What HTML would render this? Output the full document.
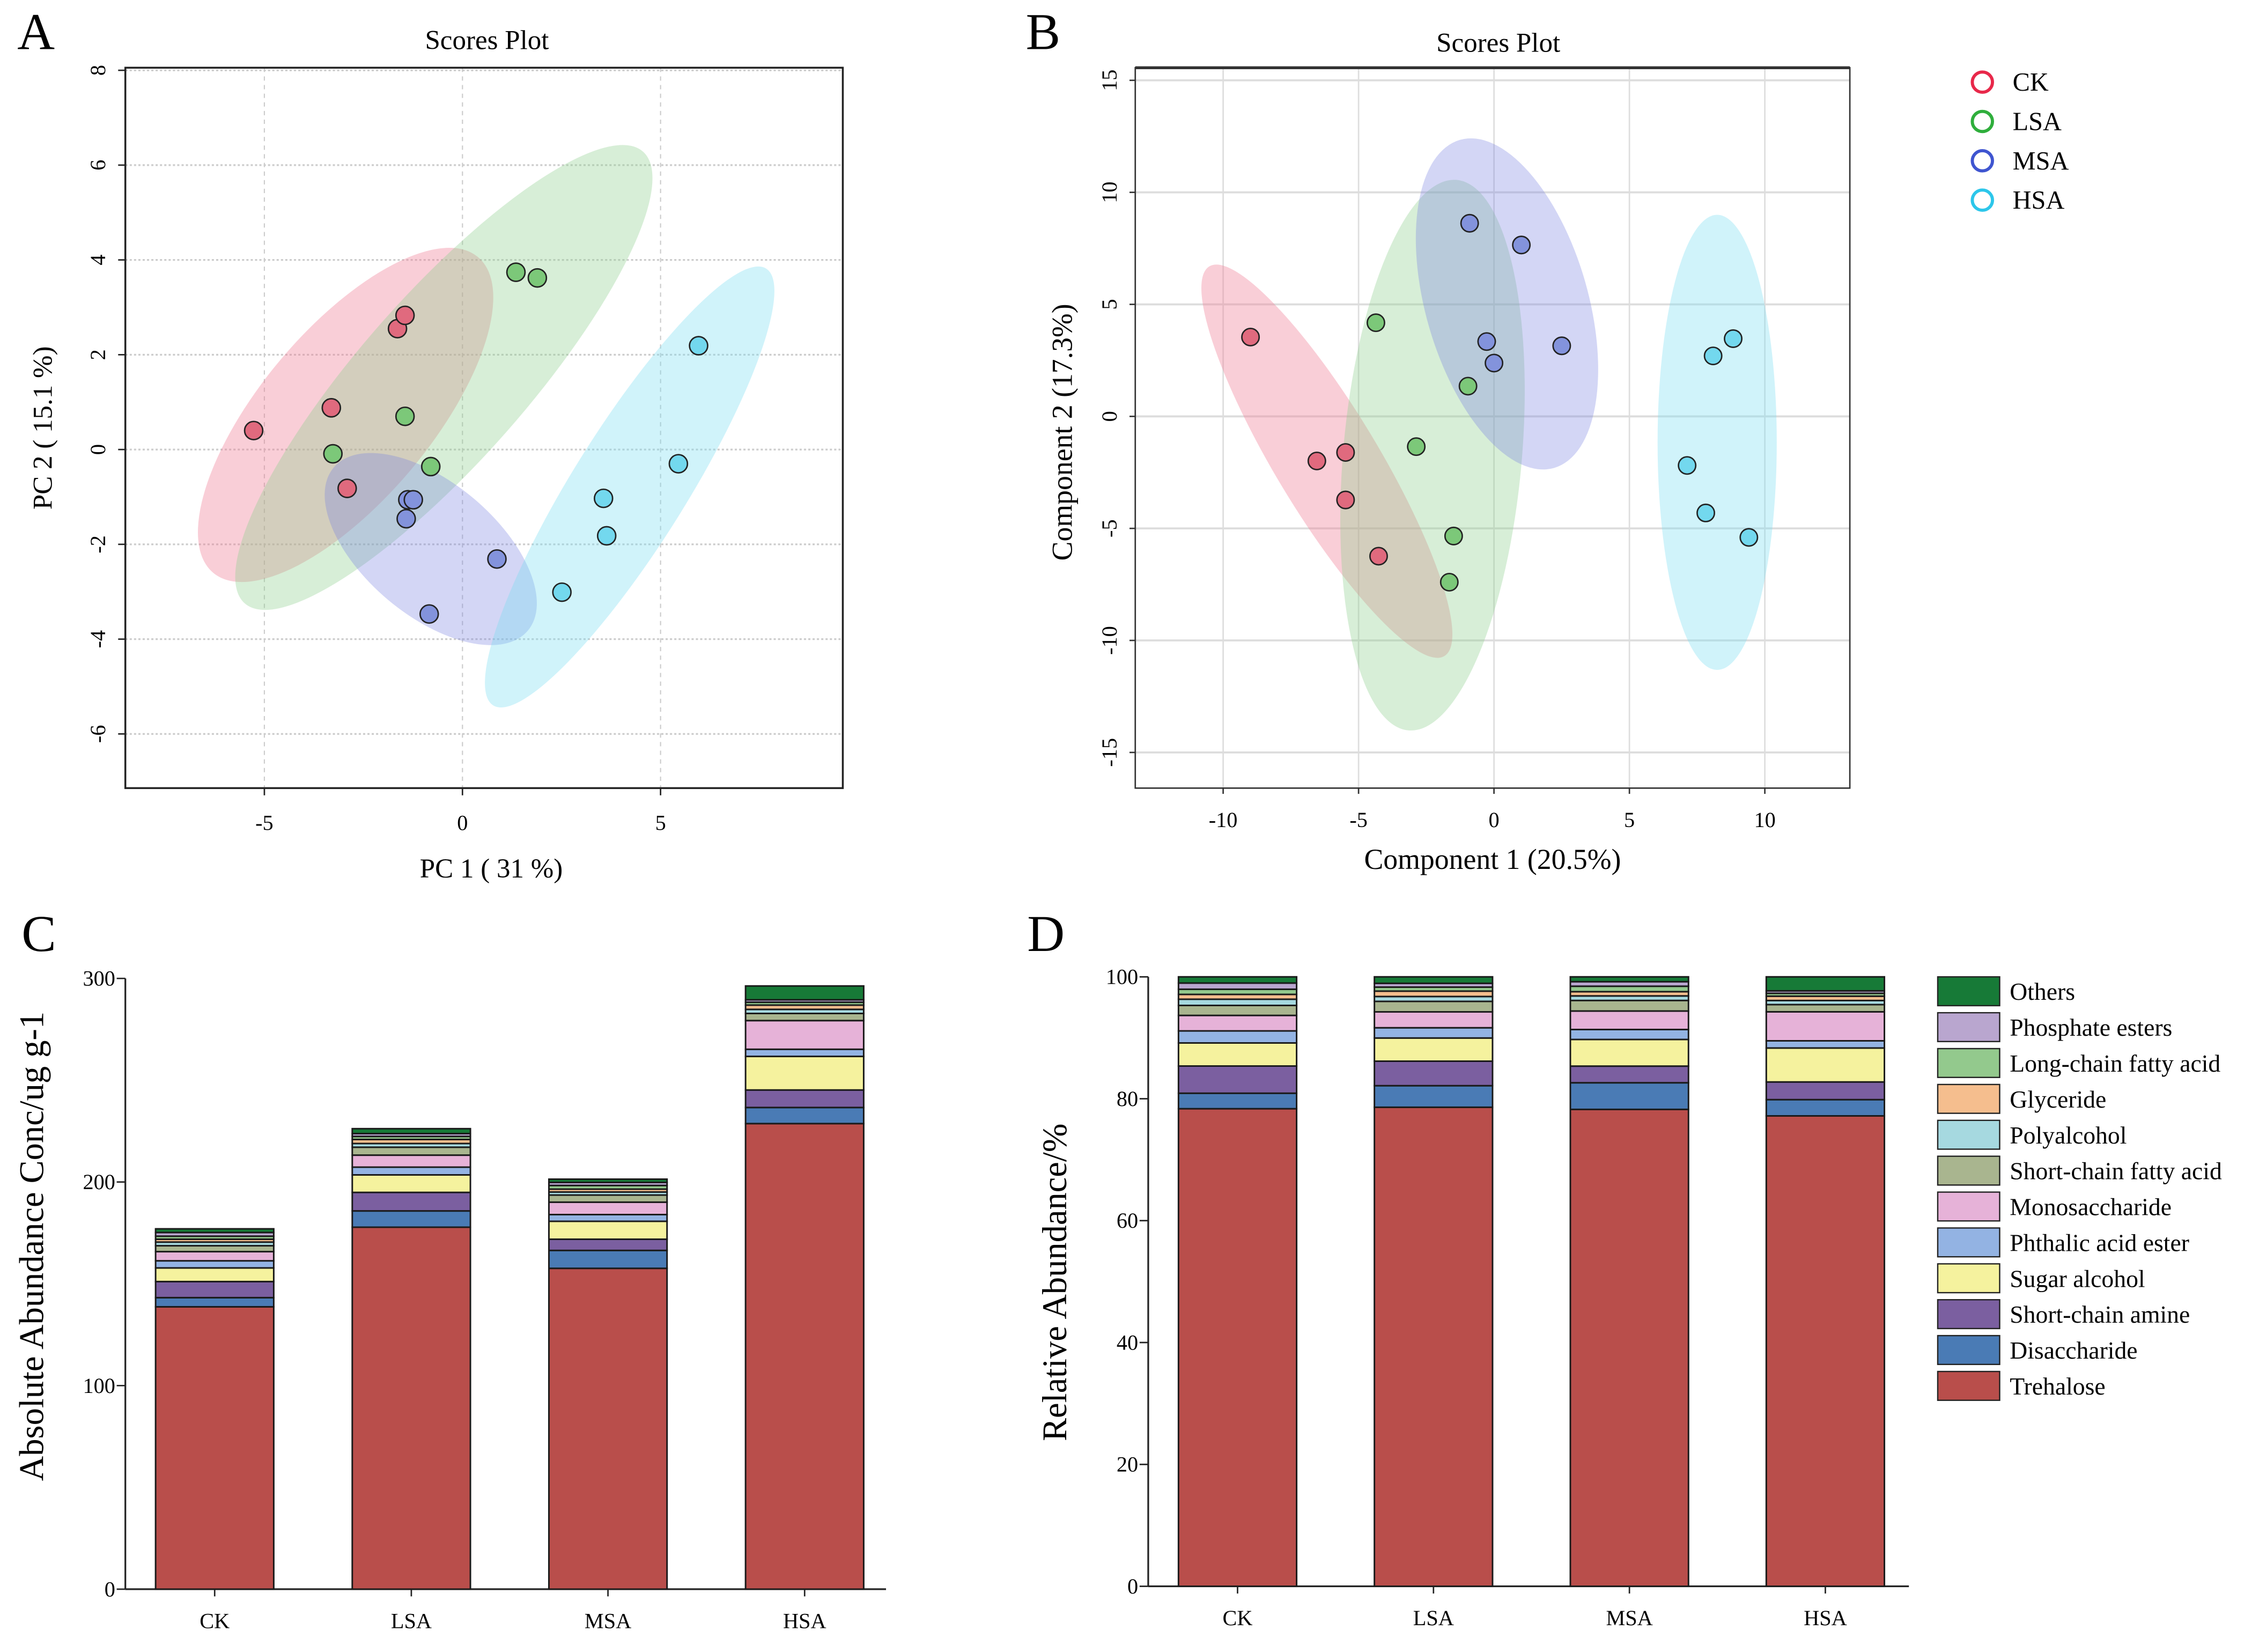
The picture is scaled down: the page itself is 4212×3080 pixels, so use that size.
<!DOCTYPE html>
<html><head><meta charset="utf-8">
<style>
html,body{margin:0;padding:0;background:#fff;}
svg{display:block;font-family:"Liberation Serif",serif;}
svg text{font-family:"Liberation Serif",serif;}
</style></head>
<body>
<svg id="fig" width="4212" height="3080" viewBox="0 0 1568 1146.6" xmlns="http://www.w3.org/2000/svg">
<rect x="0" y="0" width="1568" height="1147" fill="#fff"/>
<g id="gA"></g>
<g id="gB"></g>
<g id="gC"></g>
<g id="gD"></g>
</svg>
<script>
// ---------- data ----------
const groups = ["CK","LSA","MSA","HSA"];
const groupStroke = ["#e8284a","#2fae3c","#3f55d0","#2cc6ea"];
const groupFill = ["#e06a7e","#7cc879","#8393dc","#73d8ee"];
const ellFill = ["rgba(240,125,150,0.38)","rgba(140,205,140,0.35)","rgba(120,130,225,0.33)","rgba(120,220,242,0.35)"];

// Panel A PCA scores (PC1, PC2)
const pcaX_CK = [-5.27,-3.31,-1.64,-1.45,-2.91];
const pcaY_CK = [0.40,0.88,2.55,2.83,-0.82];
const pcaX_LSA = [1.35,1.89,-1.45,-3.27,-0.80];
const pcaY_LSA = [3.74,3.62,0.70,-0.09,-0.36];
const pcaX_MSA = [-1.38,-1.24,-1.42,0.87,-0.84];
const pcaY_MSA = [-1.06,-1.06,-1.46,-2.31,-3.47];
const pcaX_HSA = [5.96,5.45,3.56,3.64,2.51];
const pcaY_HSA = [2.19,-0.30,-1.03,-1.82,-3.01];
const ellA_cx = [-2.95,-0.47,-0.80,4.22];
const ellA_cy = [0.73,1.52,-2.10,-0.79];
const ellA_a = [5.2,7.6,3.2,6.5];
const ellA_b = [1.8,1.75,1.4,1.2];
const ellA_ang = [-50,-48.6,40,-58];
const ticksA_x = [-5,0,5];
const ticksA_y = [8,6,4,2,0,-2,-4,-6];

// Panel B PLS-DA scores
const plsX_CK = [-8.99,-6.54,-5.48,-5.48,-4.26];
const plsY_CK = [3.54,-1.99,-1.61,-3.73,-6.24];
const plsX_LSA = [-4.36,-0.96,-2.87,-1.49,-1.65];
const plsY_LSA = [4.18,1.35,-1.35,-5.34,-7.40];
const plsX_MSA = [-0.90,1.01,-0.27,0.0,2.50];
const plsY_MSA = [8.62,7.65,3.34,2.38,3.15];
const plsX_HSA = [8.83,8.09,7.13,7.82,9.41];
const plsY_HSA = [3.47,2.70,-2.19,-4.31,-5.40];
const ellB_cx = [-6.17,-2.27,0.48,8.24];
const ellB_cy = [-2.0,-1.73,5.02,-1.16];
const ellB_a = [8.4,10.2,6.3,8.4];
const ellB_b = [1.9,3.3,3.0,2.2];
const ellB_ang = [58.9,-85,74,-90];
const ticksB_x = [-10,-5,0,5,10];
const ticksB_y = [15,10,5,0,-5,-10,-15];

// Panel C/D stacked composition (ug/g), order bottom->top
const classes = ["Trehalose","Disaccharide","Short-chain amine","Sugar alcohol","Phthalic acid ester","Monosaccharide","Short-chain fatty acid","Polyalcohol","Glyceride","Long-chain fatty acid","Phosphate esters","Others"];
const classColors = ["#b94e4b","#4a7bb5","#7b5fa0","#f5f29e","#93b3e3","#e6b2d8","#a9b58f","#a6d9e0","#f5be8e","#93c98d","#b9a6cf","#177a37"];
const valCK  = [138.7,4.5,7.9,6.7,3.5,4.5,2.9,1.8,1.4,1.5,1.8,1.8];
const valLSA = [177.8,8.0,9.1,8.6,3.8,5.9,3.9,1.8,2.0,1.5,1.4,2.4];
const valMSA = [157.6,8.8,5.5,8.8,3.3,6.1,3.5,1.5,1.4,1.8,1.5,1.6];
const valHSA = [228.7,7.9,8.6,16.5,3.5,14.1,3.5,2.0,2.1,1.4,1.2,6.8];
const ticksC_y = [0,100,200,300];
const ticksD_y = [0,20,40,60,80,100];

// ---------- helpers ----------
const NS="http://www.w3.org/2000/svg";
function mk(parent,tag,attrs,text){const e=document.createElementNS(NS,tag);for(const k in attrs)e.setAttribute(k,attrs[k]);if(text!==undefined){e.textContent=text;e.setAttribute('font-family','Liberation Serif, serif');}parent.appendChild(e);return e;}

// ---------- Panel A ----------
(function(){
  const g=document.getElementById('gA');
  const L=87,R=585,T=47,B=547;
  const sx=v=>321+v*27.5, sy=v=>312-v*32.9;
  let t=mk(g,'text',{x:25,y:34,'font-size':36,'text-anchor':'middle'},'A');
  
  t=mk(g,'text',{x:338,y:34,'font-size':19,'text-anchor':'middle'},'Scores Plot');
  
  ticksA_x.forEach(v=>{const l=mk(g,'line',{x1:sx(v),x2:sx(v),y1:T,y2:B,stroke:'#ccc','stroke-width':0.8,'stroke-dasharray':'3,3'});});
  ticksA_y.forEach(v=>{const l=mk(g,'line',{x1:L,x2:R,y1:sy(v),y2:sy(v),stroke:'#ccc','stroke-width':1.2,'stroke-dasharray':'1.5,1.5'});});
  for(let i=0;i<4;i++){
    const e=mk(g,'ellipse',{cx:sx(ellA_cx[i]),cy:sy(ellA_cy[i]),rx:ellA_a[i]*27.5,ry:ellA_b[i]*32.9,fill:ellFill[i],transform:`rotate(${ellA_ang[i]} ${sx(ellA_cx[i])} ${sy(ellA_cy[i])})`});
    
  }
  const xs=[pcaX_CK,pcaX_LSA,pcaX_MSA,pcaX_HSA], ys=[pcaY_CK,pcaY_LSA,pcaY_MSA,pcaY_HSA];
  for(let i=0;i<4;i++) xs[i].forEach((x,j)=>{const c=mk(g,'circle',{cx:sx(x),cy:sy(ys[i][j]),r:6.3,fill:groupFill[i],stroke:'#222','stroke-width':1});});
  const f=mk(g,'rect',{x:L,y:T,width:R-L,height:B-T,fill:'none',stroke:'#222','stroke-width':1.3});
  
  ticksA_x.forEach(v=>{mk(g,'line',{x1:sx(v),x2:sx(v),y1:B,y2:B+5,stroke:'#222'});const tt=mk(g,'text',{x:sx(v),y:B+29,'font-size':15,'text-anchor':'middle'},String(v));});
  ticksA_y.forEach(v=>{mk(g,'line',{x1:L-5,x2:L,y1:sy(v),y2:sy(v),stroke:'#222'});const tt=mk(g,'text',{x:68,y:sy(v),'font-size':15,'text-anchor':'middle',transform:`rotate(-90 68 ${sy(v)})`,'dy':5},String(v));});
  t=mk(g,'text',{x:341,y:609,'font-size':19,'text-anchor':'middle'},'PC 1 ( 31 %)');
  t=mk(g,'text',{x:36,y:297,'font-size':19,'text-anchor':'middle',transform:'rotate(-90 36 297)'},'PC 2 ( 15.1 %)');
})();

// ---------- Panel B ----------
(function(){
  const g=document.getElementById('gB');
  const L=788,R=1284,T=47,B=547;
  const sx=v=>1037+v*18.8, sy=v=>289-v*15.55;
  let t=mk(g,'text',{x:724,y:34,'font-size':36,'text-anchor':'middle'},'B');
  
  t=mk(g,'text',{x:1040,y:36,'font-size':19,'text-anchor':'middle'},'Scores Plot');
  
  ticksB_x.forEach(v=>{const l=mk(g,'line',{x1:sx(v),x2:sx(v),y1:T,y2:B,stroke:'#ddd','stroke-width':1});});
  ticksB_y.forEach(v=>{const l=mk(g,'line',{x1:L,x2:R,y1:sy(v),y2:sy(v),stroke:'#ddd','stroke-width':1.4});});
  for(let i=0;i<4;i++){
    const e=mk(g,'ellipse',{cx:sx(ellB_cx[i]),cy:sy(ellB_cy[i]),rx:ellB_a[i]*18.8,ry:ellB_b[i]*18.8,fill:ellFill[i],transform:`rotate(${ellB_ang[i]} ${sx(ellB_cx[i])} ${sy(ellB_cy[i])})`});
    
  }
  const xs=[plsX_CK,plsX_LSA,plsX_MSA,plsX_HSA], ys=[plsY_CK,plsY_LSA,plsY_MSA,plsY_HSA];
  for(let i=0;i<4;i++) xs[i].forEach((x,j)=>{const c=mk(g,'circle',{cx:sx(x),cy:sy(ys[i][j]),r:6,fill:groupFill[i],stroke:'#222','stroke-width':1});});
  const f=mk(g,'rect',{x:L,y:T,width:R-L,height:B-T,fill:'none',stroke:'#333','stroke-width':1});
  
  mk(g,'line',{x1:L,x2:R,y1:T,y2:T,stroke:'#333','stroke-width':2});
  ticksB_x.forEach(v=>{mk(g,'line',{x1:sx(v),x2:sx(v),y1:B,y2:B+4,stroke:'#333'});const tt=mk(g,'text',{x:sx(v),y:B+27,'font-size':15,'text-anchor':'middle'},String(v));});
  ticksB_y.forEach(v=>{mk(g,'line',{x1:L-4,x2:L,y1:sy(v),y2:sy(v),stroke:'#333'});const tt=mk(g,'text',{x:770,y:sy(v),'font-size':15,'text-anchor':'middle',transform:`rotate(-90 770 ${sy(v)})`,'dy':5},String(v));});
  t=mk(g,'text',{x:1036,y:603,'font-size':20,'text-anchor':'middle'},'Component 1 (20.5%)');
  t=mk(g,'text',{x:744,y:300,'font-size':20,'text-anchor':'middle',transform:'rotate(-90 744 300)'},'Component 2 (17.3%)');
  groups.forEach((n,i)=>{
    const y=57+i*27.3;
    const c=mk(g,'circle',{cx:1376,cy:y,r:7,fill:'none',stroke:groupStroke[i],'stroke-width':2.2});
    const tt=mk(g,'text',{x:1397,y:y+6,'font-size':18},n);
  });
})();

// ---------- Panels C & D ----------
const allVals=[valCK,valLSA,valMSA,valHSA];
function drawBars(g,opts){
  const {L,B,ppu,x0,dx,w,ticks,vals,ticklx,xright}=opts;
  const sy=v=>B-v*ppu;
  mk(g,'line',{x1:L,x2:L,y1:sy(ticks[ticks.length-1]),y2:B,stroke:'#222','stroke-width':1.2});
  mk(g,'line',{x1:L,x2:xright,y1:B,y2:B,stroke:'#222','stroke-width':1.2});
  ticks.forEach(v=>{mk(g,'line',{x1:L-6,x2:L,y1:sy(v),y2:sy(v),stroke:'#222'});const tt=mk(g,'text',{x:ticklx,y:sy(v)+5,'font-size':15,'text-anchor':'end'},String(v));});
  vals.forEach((arr,i)=>{
    const cx=x0+dx*i; let acc=0;
    arr.forEach((v,k)=>{
      const r=mk(g,'rect',{x:cx-w/2,y:sy(acc+v),width:w,height:v*ppu,fill:classColors[k],stroke:'#1a1a1a','stroke-width':1.1});
      
      
      acc+=v;
    });
    mk(g,'line',{x1:cx,x2:cx,y1:B,y2:B+5,stroke:'#222'});
    const tt=mk(g,'text',{x:cx,y:B+27,'font-size':15,'text-anchor':'middle'},groups[i]);
  });
}
(function(){
  const g=document.getElementById('gC');
  let t=mk(g,'text',{x:27,y:660,'font-size':36,'text-anchor':'middle'},'C');
  drawBars(g,{L:87,B:1103,ppu:1.413,x0:149,dx:136.5,w:82,ticks:ticksC_y,vals:allVals,ticklx:80,xright:615});
  t=mk(g,'text',{x:30,y:865,'font-size':24,'text-anchor':'middle',transform:'rotate(-90 30 865)'},'Absolute Abundance Conc/ug g-1');
})();
(function(){
  const g=document.getElementById('gD');
  let t=mk(g,'text',{x:726,y:660,'font-size':36,'text-anchor':'middle'},'D');
  const rel=allVals.map(a=>{const s=a.reduce((p,q)=>p+q,0);return a.map(v=>v/s*100);});
  drawBars(g,{L:797,B:1101,ppu:4.23,x0:859,dx:136,w:82,ticks:ticksD_y,vals:rel,ticklx:790,xright:1325});
  t=mk(g,'text',{x:740,y:890,'font-size':24,'text-anchor':'middle',transform:'rotate(-90 740 890)'},'Relative Abundance/%');
  for(let k=classes.length-1;k>=0;k--){
    const row=classes.length-1-k, y=678+row*24.9;
    const r=mk(g,'rect',{x:1345,y:y,width:43,height:20,fill:classColors[k],stroke:'#222','stroke-width':0.9});
    
    const tt=mk(g,'text',{x:1395,y:y+16,'font-size':17},classes[k]);
    
  }
})();
</script>
</body></html>
